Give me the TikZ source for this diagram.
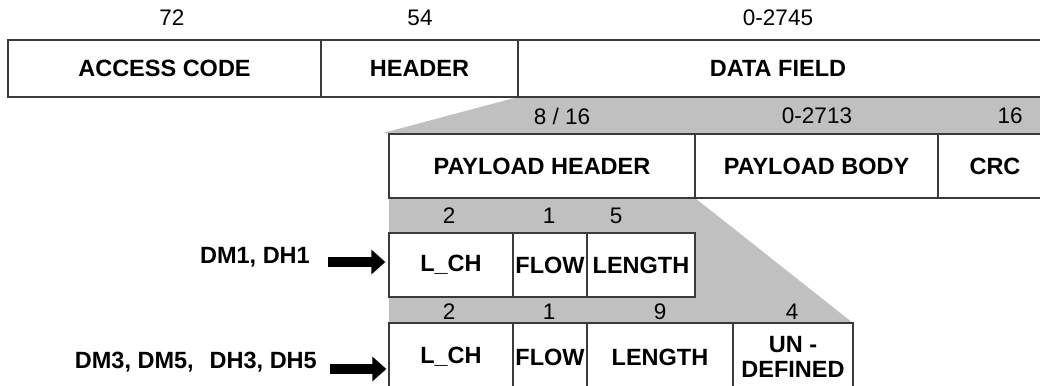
\documentclass[tikz,border=0pt]{standalone}
\usepackage{fontspec}
\setmainfont{Liberation Sans}
\usetikzlibrary{arrows.meta}
\definecolor{fangray}{HTML}{C0C0C0}
\definecolor{edge}{HTML}{3A3A3A}
\begin{document}
\begin{tikzpicture}[x=1pt,y=-1pt,
  cell/.style={draw=edge, line width=1.3pt, fill=white, inner sep=0pt, align=center,
               font=\fontsize{23.5}{25}\selectfont\bfseries},
  num/.style={inner sep=0pt, font=\fontsize{22.5}{24}\selectfont},
  lbl/.style={inner sep=0pt, anchor=east, font=\fontsize{23.5}{25}\selectfont\bfseries},
  blockarrow/.style={line width=10pt, draw=black, -{Triangle[length=14pt,width=24pt]}}]
\useasboundingbox (0,0) rectangle (1040,385);
\begin{scope}
\clip (0,0) rectangle (1040,385);
% gray fans
\fill[fangray] (518,97) -- (1050,97) -- (1050,134) -- (383,133) -- cycle;
\fill[fangray] (389,198) -- (695,198) -- (853,323) -- (389,323) -- cycle;
% top row
\node[num] (n72) at (172,18) {72};
\node[num] (n54) at (420,18) {54};
\node[num] (n2745) at (778,18) {0-2745};
\node[cell, minimum width=313pt, minimum height=57pt] (ac) at (164.5,68.5) {ACCESS CODE};
\node[cell, minimum width=197pt, minimum height=57pt] (hd) at (419.5,68.5) {HEADER};
\node[cell, minimum width=530pt, minimum height=57pt] (df) at (783,68.5) {\hspace{-10pt}DATA FIELD};
% payload row
\node[num] (n816) at (562,116) {8 / 16};
\node[num] (n2713) at (817,116) {0-2713};
\node[num] (n16) at (1010,116) {16};
\node[cell, minimum width=306pt, minimum height=64pt] (ph) at (542,166) {PAYLOAD HEADER};
\node[cell, minimum width=243pt, minimum height=64pt] (pb) at (816.5,166) {PAYLOAD BODY};
\node[cell, minimum width=114pt, minimum height=64pt] (crc) at (995,166) {CRC};
% DM1 row
\node[num] (a2) at (449,216) {2};
\node[num] (a1) at (549,216) {1};
\node[num] (a5) at (616,216) {5};
\node[cell, minimum width=124pt, minimum height=64pt] (lch1) at (451,265) {L\_CH};
\node[cell, minimum width=74pt, minimum height=64pt] (flow1) at (550,265) {FLOW};
\node[cell, minimum width=108pt, minimum height=64pt] (len1) at (641,265) {LENGTH};
% DM3 row
\node[num] (b2) at (449,312) {2};
\node[num] (b1) at (549,312) {1};
\node[num] (b9) at (660,312) {9};
\node[num] (b4) at (792,312) {4};
\node[cell, minimum width=124pt, minimum height=68pt] (lch2) at (451,357) {L\_CH};
\node[cell, minimum width=74pt, minimum height=68pt] (flow2) at (550,357) {FLOW};
\node[cell, minimum width=146pt, minimum height=68pt] (len2) at (660,357) {LENGTH};
\node[cell, minimum width=120pt, minimum height=68pt, font=\fontsize{23.5}{25}\selectfont\bfseries] (und) at (793,357) {UN -\\DEFINED};
% side labels and arrows
\node[lbl] (dmA) at (310,257) {DM1, DH1};
\node[lbl] (dmB) at (317,362) {DM3, DM5,\hspace{0.68em}DH3, DH5};
\coordinate (a1s) at (328,262);
\coordinate (a2s) at (330,369);
\path (a1s -| lch1.west) coordinate (a1e);
\path (a2s -| lch2.west) coordinate (a2e);
\draw[blockarrow] (a1s) -- ([xshift=-3pt]a1e);
\draw[blockarrow] (a2s) -- ([xshift=-2pt]a2e);
\end{scope}
\end{tikzpicture}
\end{document}
